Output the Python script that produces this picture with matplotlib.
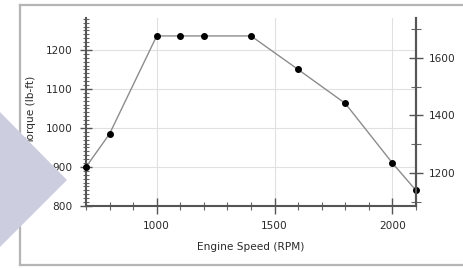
import matplotlib
matplotlib.use("Agg")
import matplotlib.pyplot as plt
from matplotlib.patches import Polygon
from matplotlib.lines import Line2D
from matplotlib.ticker import MultipleLocator

rpm = [700, 800, 1000, 1100, 1200, 1400, 1600, 1800, 2000, 2100]
torque_lbft = [900, 985, 1236, 1236, 1236, 1236, 1150, 1063, 910, 840]
x_ticks = [1000, 1500, 2000]
left_ticks = [800, 900, 1000, 1100, 1200]
right_ticks = [1200, 1400, 1600]
x_label = "Engine Speed (RPM)"
left_label = "Torque (lb-ft)"
right_label = "Torque (N-m)"
NM_PER_LBFT = 1.3558

W, H = 464, 268
plt.rcParams['font.family'] = ['DejaVu Sans']
fig = plt.figure(figsize=(W / 100, H / 100), dpi=100)
fig.patch.set_facecolor("white")

FS = 7.6
TXT = "#2a2a2a"
L, R, T, B = 86, 416, 18, 206
ax = fig.add_axes([L / W, 1 - B / H, (R - L) / W, (B - T) / H])
ylo, yhi = 800, 1282
ax.set_xlim(700, 2100)
ax.set_ylim(ylo, yhi)

ax.plot(rpm, torque_lbft, color="#8c8c8c", lw=1.0, zorder=3, clip_on=False)
ax.plot(rpm, torque_lbft, "o", color="black", ms=4.0, zorder=4, clip_on=False)

ax.set_xticks(x_ticks)
ax.xaxis.set_minor_locator(MultipleLocator(100))
ax.set_yticks(left_ticks)
ax.yaxis.set_minor_locator(MultipleLocator(10))
ax.grid(True, which="major", color="#e0e0e0", lw=0.8, zorder=0)

ax.spines["top"].set_visible(False)
for s in ["left", "bottom", "right"]:
    ax.spines[s].set_color("#555555")
    ax.spines[s].set_linewidth(1.5)

ax.tick_params(axis="x", which="major", direction="inout", length=11, width=1.0, color="#555555",
               labelsize=FS, labelcolor=TXT, pad=5)
ax.tick_params(axis="x", which="minor", direction="inout", length=6, width=0.8, color="#666666")
ax.tick_params(axis="y", which="major", direction="inout", length=9, width=1.0, color="#555555",
               labelsize=FS, labelcolor=TXT, pad=5)
ax.tick_params(axis="y", which="minor", direction="inout", length=5, width=0.8, color="#666666")
ax.set_xlabel(x_label, fontsize=FS, color=TXT, labelpad=8)

ax2 = ax.twinx()
ax2.set_ylim(ylo * NM_PER_LBFT, yhi * NM_PER_LBFT)
ax2.set_yticks(right_ticks)
ax2.yaxis.set_minor_locator(MultipleLocator(100))
for s in ["top", "left", "bottom"]:
    ax2.spines[s].set_visible(False)
ax2.spines["right"].set_color("#555555")
ax2.spines["right"].set_linewidth(1.5)
ax2.tick_params(which="major", direction="inout", length=10, width=1.0, color="#555555",
                labelsize=FS, labelcolor=TXT, pad=4)
ax2.tick_params(which="minor", direction="inout", length=7, width=0.8, color="#666666")

fig.text(31 / W, 1 - 110 / H, left_label, rotation=90, ha="center", va="center",
         fontsize=FS, color=TXT)
fig.text(470 / W, 1 - 115 / H, right_label, rotation=90, ha="center", va="center",
         fontsize=FS, color=TXT)

# outer frame (left, top, bottom edges; right edge lies beyond the picture)
fx0, fy0, fy1 = 20 / W, 1 - 265 / H, 1 - 5 / H
for xs, ys in [([fx0, fx0], [fy0, fy1]), ([fx0, 1.05], [fy1, fy1]), ([fx0, 1.05], [fy0, fy0])]:
    fig.lines.append(Line2D(xs, ys, transform=fig.transFigure, color="#b5b5b5", lw=1.6, zorder=0))

# decorative diamond
fig.patches.append(Polygon([(0, 1 - 112 / H), (67 / W, 1 - 180 / H), (0, 1 - 247 / H)],
                           closed=True, transform=fig.transFigure,
                           facecolor="#cdcde0", edgecolor="none", zorder=10))

fig.savefig("out.png", dpi=100)
